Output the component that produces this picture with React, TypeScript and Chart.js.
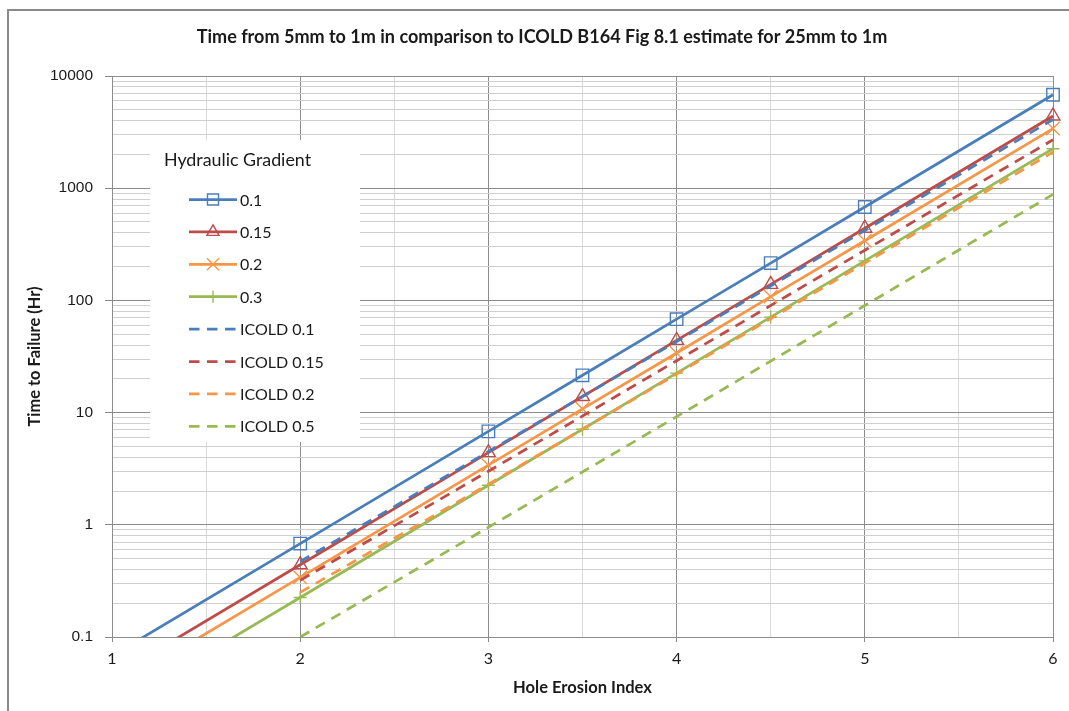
import { useEffect, useRef } from 'react';
import { Chart, registerables } from 'chart.js';

Chart.register(...registerables);

const W = 1069;
const H = 711;

// Hole erosion index values where the time to failure was evaluated
const HEI_X = [1, 2, 3, 3.5, 4, 4.5, 5, 6];
// Time to failure (hours) for each hydraulic gradient
const TIME_G010 = [0.068, 0.68, 6.8, 21.5, 68, 215, 680, 6800];
const TIME_G015 = [0.044, 0.44, 4.4, 13.9, 44, 139, 440, 4400];
const TIME_G020 = [0.034, 0.34, 3.4, 10.8, 34, 108, 340, 3400];
const TIME_G030 = [0.0225, 0.225, 2.25, 7.1, 22.5, 71, 225, 2250];

// ICOLD Bulletin 164 Fig 8.1 estimates (25mm to 1m)
const ICOLD_X = [2, 3, 4, 5, 6];
const ICOLD_010 = [0.47, 4.5, 43, 420, 4100];
const ICOLD_015 = [0.32, 3.0, 29, 280, 2700];
const ICOLD_020 = [0.25, 2.3, 22, 215, 2100];
const ICOLD_050 = [0.1, 0.95, 9.2, 90, 880];

const SERIES_LABELS = ['0.1', '0.15', '0.2', '0.3', 'ICOLD 0.1', 'ICOLD 0.15', 'ICOLD 0.2', 'ICOLD 0.5'];

const Y_DECADES = [0.1, 1, 10, 100, 1000, 10000];
const Y_MINOR_STEPS = [2, 3, 4, 5, 6, 7, 8, 9];
const X_TICK_LABELS = ['1', '2', '3', '4', '5', '6'];

const TITLE = 'Time from 5mm to 1m in comparison to ICOLD B164 Fig 8.1 estimate for 25mm to 1m';
const X_TITLE = 'Hole Erosion Index';
const Y_TITLE = 'Time to Failure (Hr)';
const LEGEND_TITLE = 'Hydraulic Gradient';

const BLUE = '#4a7ebb';
const RED = '#be4b48';
const ORANGE = '#f79646';
const GREEN = '#98b954';

const MAJOR_GRID = '#8c8c8c';
const MINOR_GRID = '#cfcfcf';
const TEXT = '#1a1a1a';
const DASH = [10.5, 7.5];

const zip = (xs: number[], ys: number[]) => xs.map((x, i) => ({ x, y: ys[i] }));

const isDecade = (v: number) => Math.abs(Math.log10(v) - Math.round(Math.log10(v))) < 1e-9;

const marker = (style: string, radius: number) => ({
  pointStyle: style,
  pointRadius: radius,
  pointHoverRadius: radius,
  pointBorderWidth: 1.4,
  pointBackgroundColor: 'rgba(0,0,0,0)',
});

const solid = (label: string, data: number[], color: string, style: string, radius: number) => ({
  label,
  data: zip(HEI_X, data),
  borderColor: color,
  pointBorderColor: color,
  borderWidth: 2.75,
  ...marker(style, radius),
  clip: { left: 0, top: 12, right: 12, bottom: 0 },
});

const dashed = (label: string, data: number[], color: string) => ({
  label,
  data: zip(ICOLD_X, data),
  borderColor: color,
  borderWidth: 2.75,
  borderDash: DASH,
  pointRadius: 0,
  pointHoverRadius: 0,
  pointStyle: false as const,
  clip: { left: 0, top: 12, right: 12, bottom: 0 },
});

// set a font whose size makes the text span the given width
function fitFont(ctx: CanvasRenderingContext2D, text: string, weight: string, family: string, width: number) {
  ctx.font = `${weight} 20px ${family}`;
  const size = (20 * width) / ctx.measureText(text).width;
  ctx.font = `${weight} ${size.toFixed(2)}px ${family}`;
}

function drawMarker(ctx: CanvasRenderingContext2D, style: string, x: number, y: number, r: number, color: string) {
  ctx.save();
  ctx.strokeStyle = color;
  ctx.lineWidth = 1.4;
  ctx.setLineDash([]);
  ctx.beginPath();
  if (style === 'rect') {
    const s = Math.SQRT1_2 * r;
    ctx.rect(x - s, y - s, 2 * s, 2 * s);
  } else if (style === 'triangle') {
    for (let k = 0; k < 3; k++) {
      const a = (k * 2 * Math.PI) / 3;
      const px = x + Math.sin(a) * r;
      const py = y - Math.cos(a) * r;
      if (k === 0) ctx.moveTo(px, py);
      else ctx.lineTo(px, py);
    }
    ctx.closePath();
  } else if (style === 'crossRot') {
    const o = Math.SQRT1_2 * r;
    ctx.moveTo(x - o, y - o);
    ctx.lineTo(x + o, y + o);
    ctx.moveTo(x - o, y + o);
    ctx.lineTo(x + o, y - o);
  } else if (style === 'cross') {
    ctx.moveTo(x - r, y);
    ctx.lineTo(x + r, y);
    ctx.moveTo(x, y - r);
    ctx.lineTo(x, y + r);
  }
  ctx.stroke();
  ctx.restore();
}

const framePlugin = {
  id: 'frame',
  beforeDraw(chart: any) {
    const ctx = chart.ctx as CanvasRenderingContext2D;
    ctx.save();
    ctx.fillStyle = '#ffffff';
    ctx.fillRect(0, 0, W, H);
    ctx.restore();
  },
  afterDraw(chart: any) {
    const ctx = chart.ctx as CanvasRenderingContext2D;
    const a = chart.chartArea;
    ctx.save();

    // outer chart frame
    ctx.fillStyle = '#8a8a8a';
    ctx.fillRect(7, 9, 2, H - 9);
    ctx.fillRect(7, 9, W - 7, 2);

    ctx.fillStyle = TEXT;
    ctx.textBaseline = 'middle';

    // chart title
    ctx.textAlign = 'center';
    fitFont(ctx, TITLE, 'bold', 'Lato', 691);
    ctx.fillText(TITLE, 542, 37);

    // axis titles
    fitFont(ctx, X_TITLE, 'bold', 'Lato', 139);
    ctx.fillText(X_TITLE, (a.left + a.right) / 2, 688);
    fitFont(ctx, Y_TITLE, 'bold', 'Lato', 140);
    ctx.save();
    ctx.translate(35, (a.top + a.bottom) / 2);
    ctx.rotate(-Math.PI / 2);
    ctx.fillText(Y_TITLE, 0, 0);
    ctx.restore();

    // legend panel
    const lx = 150, ly = 140, lw = 210, lh = 302;
    ctx.fillStyle = '#ffffff';
    ctx.fillRect(lx, ly, lw, lh);
    ctx.fillStyle = TEXT;
    ctx.textAlign = 'left';
    fitFont(ctx, LEGEND_TITLE, 'normal', 'Lato', 147);
    ctx.fillText(LEGEND_TITLE, 164, 160);

    ctx.font = '16px Lato';
    const sets = chart.data.datasets;
    sets.forEach((ds: any, i: number) => {
      const y = 199.5 + i * 32.4;
      ctx.save();
      ctx.strokeStyle = ds.borderColor;
      ctx.lineWidth = 2.75;
      ctx.lineCap = 'butt';
      ctx.setLineDash(ds.borderDash || []);
      ctx.beginPath();
      ctx.moveTo(189, y);
      ctx.lineTo(237, y);
      ctx.stroke();
      ctx.restore();
      if (ds.pointStyle) {
        const r = ds.pointStyle === 'rect' ? 7.8 : ds.pointStyle === 'cross' ? 6 : ds.pointStyle === 'crossRot' ? 8.5 : 7;
        drawMarker(ctx, ds.pointStyle, 213, y, r, ds.borderColor);
      }
      ctx.fillStyle = TEXT;
      ctx.fillText(ds.label, 240, y + 1);
    });

    ctx.restore();
  },
};

export default function App() {
  const ref = useRef<HTMLCanvasElement>(null);

  useEffect(() => {
    document.body.style.margin = '0';
    document.body.style.overflow = 'hidden';
    const canvas = ref.current;
    if (!canvas) return;

    const datasets: any[] = [
      solid(SERIES_LABELS[0], TIME_G010, BLUE, 'rect', 8.8),
      solid(SERIES_LABELS[1], TIME_G015, RED, 'triangle', 8),
      solid(SERIES_LABELS[2], TIME_G020, ORANGE, 'crossRot', 9.5),
      solid(SERIES_LABELS[3], TIME_G030, GREEN, 'cross', 6.5),
      dashed(SERIES_LABELS[4], ICOLD_010, BLUE),
      dashed(SERIES_LABELS[5], ICOLD_015, RED),
      dashed(SERIES_LABELS[6], ICOLD_020, ORANGE),
      dashed(SERIES_LABELS[7], ICOLD_050, GREEN),
    ];
    // later series are painted over earlier ones
    datasets.forEach((d, i) => (d.order = datasets.length - i));

    const chart = new Chart(canvas, {
      type: 'line',
      data: { datasets },
      plugins: [framePlugin],
      options: {
        responsive: false,
        animation: false,
        events: [],
        layout: { padding: { left: 0, top: 76, right: 16, bottom: 0 } },
        elements: { line: { tension: 0, borderCapStyle: 'butt' } },
        plugins: {
          legend: { display: false },
          title: { display: false },
          tooltip: { enabled: false },
        },
        scales: {
          x: {
            type: 'linear',
            min: 1,
            max: 6,
            afterFit: (s: any) => {
              s.height = 74;
            },
            ticks: {
              stepSize: 0.5,
              autoSkip: false,
              maxRotation: 0,
              padding: 7,
              color: TEXT,
              font: { family: 'Lato', size: 16 },
              callback: (v: any) => {
                const n = Number(v);
                return Number.isInteger(n) ? X_TICK_LABELS[n - 1] : '';
              },
            },
            grid: {
              tickLength: 5,
              lineWidth: 1,
              color: (c: any) => (c.tick && Number.isInteger(c.tick.value) ? MAJOR_GRID : '#d9d9d9'),
              tickColor: (c: any) => (c.tick && Number.isInteger(c.tick.value) ? MAJOR_GRID : 'rgba(0,0,0,0)'),
            },
            border: { color: MAJOR_GRID, width: 1 },
          },
          y: {
            type: 'logarithmic',
            min: Y_DECADES[0],
            max: Y_DECADES[Y_DECADES.length - 1],
            afterFit: (s: any) => {
              s.width = 112;
            },
            afterBuildTicks: (s: any) => {
              const ticks: any[] = [];
              Y_DECADES.forEach((d, i) => {
                ticks.push({ value: d, major: true });
                if (i < Y_DECADES.length - 1) {
                  Y_MINOR_STEPS.forEach((m) => ticks.push({ value: Number((d * m).toPrecision(6)), major: false }));
                }
              });
              s.ticks = ticks;
            },
            ticks: {
              autoSkip: false,
              padding: 12,
              color: TEXT,
              font: { family: "'Liberation Sans'", size: 15.5 },
              callback: (v: any) => {
                const n = Number(v);
                return Y_DECADES.includes(n) ? String(n) : '';
              },
            },
            grid: {
              tickLength: 7,
              lineWidth: 1,
              color: (c: any) => (c.tick && isDecade(c.tick.value) ? MAJOR_GRID : MINOR_GRID),
              tickColor: (c: any) => (c.tick && isDecade(c.tick.value) ? MAJOR_GRID : 'rgba(0,0,0,0)'),
            },
            border: { color: MAJOR_GRID, width: 1 },
          },
        },
      } as any,
    });

    return () => chart.destroy();
  }, []);

  return <canvas ref={ref} width={W} height={H} style={{ display: 'block', width: W, height: H }} />;
}
